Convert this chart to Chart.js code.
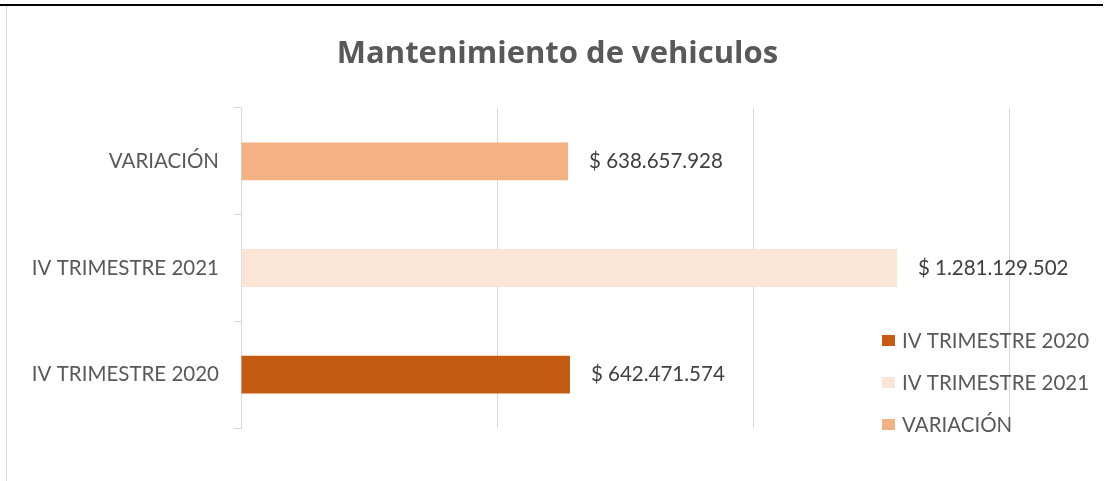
<!DOCTYPE html>
<html>
<head>
<meta charset="utf-8">
<script src="https://cdn.jsdelivr.net/npm/chart.js@4.4.1/dist/chart.umd.min.js"></script>
<style>
  html, body { margin: 0; padding: 0; background: #fff; }
  #wrap { position: relative; width: 1107px; height: 481px; overflow: hidden; }
  #c { position: absolute; left: 0; top: 0; }
  #topline { position: absolute; left: 0; top: 4px; width: 1103px; height: 0; border-top: 2px solid #000; }
  #leftline { position: absolute; left: 6px; top: 6px; width: 0; height: 480px; border-left: 1px solid #d9d9d9; }
</style>
</head>
<body>
<div id="wrap">
  <canvas id="c" width="1107" height="481"></canvas>
  <div id="topline"></div>
  <div id="leftline"></div>
</div>
<script>
const categories = ['IV TRIMESTRE 2020', 'IV TRIMESTRE 2021', 'VARIACIÓN'];
const values = [642471574, 1281129502, 638657928];
const barColors = ['#C55A11', '#FBE5D6', '#F4B183'];
const chartTitle = 'Mantenimiento de vehiculos';
const axisMax = 1500000000;
const axisStep = 500000000;

const FONT = "Lato, 'Open Sans', sans-serif";
const TITLE_FONT = "'Open Sans', Lato, sans-serif";
const LABEL_SIZE = 20.5;

function fmt(v) {
  return '$ ' + String(v).replace(/\B(?=(\d{3})+(?!\d))/g, '.');
}

const titlePlugin = {
  id: 'titlePlugin',
  afterDraw(chart) {
    const ctx = chart.ctx;
    ctx.save();
    ctx.font = 'bold 31px ' + TITLE_FONT;
    ctx.fillStyle = '#595959';
    ctx.textAlign = 'center';
    ctx.textBaseline = 'alphabetic';
    ctx.fillText(chartTitle, chart.width / 2 + 4, 63);
    ctx.restore();
  }
};

const valueLabels = {
  id: 'valueLabels',
  afterDatasetsDraw(chart) {
    const ctx = chart.ctx;
    const meta = chart.getDatasetMeta(0);
    ctx.save();
    ctx.font = LABEL_SIZE + 'px ' + FONT;
    ctx.fillStyle = '#404040';
    ctx.textAlign = 'left';
    ctx.textBaseline = 'middle';
    meta.data.forEach((bar, i) => {
      ctx.fillText(fmt(values[i]), bar.x + 21, bar.y);
    });
    ctx.restore();
  }
};

const customLegend = {
  id: 'customLegend',
  afterDraw(chart) {
    const ctx = chart.ctx;
    const a = chart.chartArea;
    ctx.save();
    ctx.font = LABEL_SIZE + 'px ' + FONT;
    ctx.textAlign = 'left';
    ctx.textBaseline = 'middle';
    categories.forEach((c, i) => {
      const y = a.bottom - 87 + i * 42;
      const x = a.right - 127;
      ctx.fillStyle = barColors[i];
      ctx.fillRect(x, y - 6, 13, 11);
      ctx.fillStyle = '#595959';
      ctx.fillText(c, x + 20, y);
    });
    ctx.restore();
  }
};

new Chart(document.getElementById('c'), {
  type: 'bar',
  data: {
    labels: categories,
    datasets: [{
      data: values,
      backgroundColor: barColors,
      borderWidth: 0,
      categoryPercentage: 1,
      barPercentage: 0.355
    }]
  },
  options: {
    indexAxis: 'y',
    responsive: false,
    animation: false,
    layout: { padding: { left: 0, right: 98, top: 108, bottom: 53 } },
    plugins: {
      legend: { display: false },
      tooltip: { enabled: false },
      title: { display: false }
    },
    scales: {
      x: {
        min: 0,
        max: axisMax,
        ticks: { display: false, stepSize: axisStep },
        grid: { color: '#d9d9d9', drawTicks: false, lineWidth: 1 },
        border: { display: false }
      },
      y: {
        reverse: true,
        afterFit(scale) { scale.width = 241; },
        ticks: {
          color: '#595959',
          font: { family: FONT, size: LABEL_SIZE },
          padding: 15
        },
        grid: {
          offset: true,
          drawOnChartArea: false,
          drawTicks: true,
          tickLength: 7,
          color: '#d9d9d9'
        },
        border: { display: true, color: '#d9d9d9', width: 1 }
      }
    }
  },
  plugins: [valueLabels, customLegend, titlePlugin]
});
</script>
</body>
</html>
